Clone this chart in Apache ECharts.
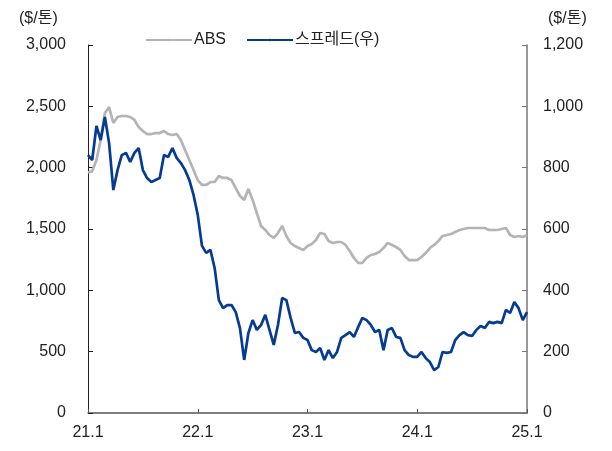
<!DOCTYPE html>
<html>
<head>
<meta charset="utf-8">
<script src="https://cdn.jsdelivr.net/npm/echarts@6/dist/echarts.min.js"></script>
<style>html,body{margin:0;padding:0;background:#fff}#c{width:612px;height:451px}</style>
</head>
<body>
<div id="c"></div>
<script>
// bi-weekly observations, Jan 2021 .. Jan 2025 (105 points)
const absValues = [1960,1970,2062,2225,2446,2494,2364,2413,2421,2421,2413,2389,2331,2299,2274,2274,2282,2282,2299,2274,2266,2274,2225,2144,2062,1981,
1899,1859,1859,1883,1883,1932,1916,1916,1899,1834,1769,1737,1826,1737,1630,1524,1492,1451,1427,1467,1524,1443,1386,1361,1345,1329,
1361,1378,1410,1467,1459,1402,1386,1394,1394,1370,1321,1264,1223,1223,1264,1288,1296,1313,1345,1386,1370,1353,1329,1280,1247,1247,
1247,1272,1304,1345,1370,1402,1443,1451,1459,1476,1492,1500,1508,1508,1508,1508,1508,1492,1492,1492,1500,1508,1451,1435,1443,1435,1451];
const spreadValues = [841,825,936,890,965,880,727,792,841,848,819,848,864,792,766,753,760,766,841,835,864,832,815,792,760,711,
646,545,522,532,473,368,342,352,352,329,277,173,261,303,271,287,320,271,222,287,375,368,310,261,264,245,
238,205,199,212,173,205,179,199,245,254,264,248,280,310,303,287,264,271,205,271,277,248,245,205,189,183,
183,199,179,166,140,150,199,196,199,238,254,264,254,251,271,284,277,297,293,297,293,336,326,362,342,303,329];
const tickLabels = ['21.1','22.1','23.1','24.1','25.1'];
const seriesNames = ['ABS','스프레드(우)'];
const unitLabel = '($/톤)';

const categories = absValues.map((_, i) => 'p' + i);
const labelStep = 26;

const FONT = "'Liberation Sans', 'Noto Sans CJK KR', sans-serif";
const chart = echarts.init(document.getElementById('c'), null, {renderer: 'canvas'});
chart.setOption({
  animation: false,
  backgroundColor: '#fff',
  textStyle: {fontFamily: FONT},
  grid: {left: 88, right: 85, top: 45, bottom: 38, containLabel: false},
  legend: {
    left: 140, top: 27, itemWidth: 46, itemHeight: 3, itemGap: 20,
    textStyle: {fontSize: 16, color: '#222', fontFamily: FONT, padding: [0,0,0,-3]},
    data: seriesNames
  },
  graphic: [
    {type: 'text', left: 19, top: 11, style: {text: unitLabel, font: "16px " + FONT, fill: '#222'}},
    {type: 'text', left: 548, top: 11, style: {text: unitLabel, font: "16px " + FONT, fill: '#222'}}
  ],
  xAxis: {
    type: 'category', data: categories, boundaryGap: false,
    axisLine: {lineStyle: {color: '#555', width: 1.5}},
    axisTick: {inside: true, length: 4, interval: (i) => i % labelStep === 0, lineStyle: {color: '#555'}},
    axisLabel: {interval: (i) => i % labelStep === 0, formatter: (v, i) => tickLabels[i / labelStep], fontSize: 16, color: '#222', margin: 12, showMaxLabel: true}
  },
  yAxis: [
    {type: 'value', min: 0, max: 3000, interval: 500, position: 'left',
     axisLine: {show: true, lineStyle: {color: '#222', width: 1}},
     axisTick: {show: true, inside: true, length: 5, lineStyle: {color: '#222'}},
     splitLine: {show: false},
     axisLabel: {fontSize: 16, color: '#222', margin: 22, formatter: (v) => v.toLocaleString('en-US')}},
    {type: 'value', min: 0, max: 1200, interval: 200, position: 'right',
     axisLine: {show: true, lineStyle: {color: '#777', width: 1.5}},
     axisTick: {show: true, inside: true, length: 5, lineStyle: {color: '#777'}},
     splitLine: {show: false},
     axisLabel: {fontSize: 16, color: '#222', margin: 16, formatter: (v) => v.toLocaleString('en-US')}}
  ],
  series: [
    {name: seriesNames[0], type: 'line', yAxisIndex: 0, data: absValues, symbol: 'none',
     lineStyle: {color: '#b4b4b4', width: 2.7}, itemStyle: {color: '#b4b4b4'}},
    {name: seriesNames[1], type: 'line', yAxisIndex: 1, data: spreadValues, symbol: 'none',
     lineStyle: {color: '#063b92', width: 2.7}, itemStyle: {color: '#063b92'}}
  ]
});
</script>
</body>
</html>
